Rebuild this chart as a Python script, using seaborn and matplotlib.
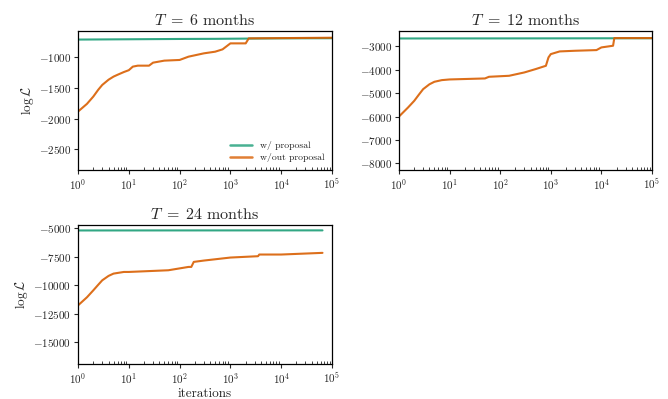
import numpy as np
import pandas as pd
import matplotlib
matplotlib.use("Agg")
import matplotlib.pyplot as plt
import seaborn as sns

sns.set_theme(style="ticks")
plt.rcParams["font.family"] = ["serif"]
plt.rcParams["font.serif"] = ["cmr10", "DejaVu Serif"]
plt.rcParams["mathtext.fontset"] = "cm"
plt.rcParams["axes.formatter.use_mathtext"] = True
plt.rcParams["axes.unicode_minus"] = True

# ---- data ----
titles = [r"$T\;=\;6$ months", r"$T\;=\;12$ months", r"$T\;=\;24$ months"]
series_names = ["w/ proposal", "w/out proposal"]

# T = 6 months
t6_with_x = [1, 10, 100, 500, 1000, 3000, 10000, 100000]
t6_with_y = [-710, -705, -700, -698, -696, -693, -690, -688]
t6_without_x = [1, 1.5, 2, 2.5, 3, 4, 5, 6, 8, 10, 12, 15, 25, 30, 50, 100, 150, 300, 500, 700,
                1000, 2000, 2300, 100000]
t6_without_y = [-1886, -1760, -1641, -1530, -1451, -1365, -1315, -1285, -1240, -1210, -1152, -1136,
                -1136, -1087, -1054, -1043, -989, -935, -908, -870, -772, -772, -690, -680]

# T = 12 months
t12_with_x = [1, 10, 100, 1000, 10000, 100000]
t12_with_y = [-2660, -2658, -2657, -2655, -2652, -2650]
t12_without_x = [1, 1.5, 2, 2.5, 3, 4, 5, 7, 10, 50, 60, 150, 300, 500, 800, 900, 1000, 1500, 3000,
                 8000, 10000, 17000, 18000, 100000]
t12_without_y = [-6000, -5620, -5329, -5050, -4829, -4620, -4514, -4443, -4414, -4371, -4300, -4257,
                 -4114, -3971, -3829, -3471, -3329, -3214, -3186, -3157, -3043, -2971, -2643, -2643]

# T = 24 months
t24_with_x = [1, 10, 100, 1000, 10000, 65000]
t24_with_y = [-5180, -5178, -5176, -5175, -5173, -5172]
t24_without_x = [1, 1.5, 2, 2.5, 3, 4, 5, 8, 10, 60, 150, 170, 190, 300, 1000, 3500, 3700, 10000,
                 65000]
t24_without_y = [-11765, -11050, -10441, -9950, -9559, -9170, -8970, -8824, -8824, -8676, -8382,
                 -8382, -7941, -7824, -7559, -7441, -7294, -7294, -7147]

ylims = [(-2840, -570), (-8290, -2340), (-16910, -4700)]
yticks = [[-2500, -2000, -1500, -1000],
          [-8000, -7000, -6000, -5000, -4000, -3000],
          [-15000, -12500, -10000, -7500, -5000]]

panels = [
    (t6_with_x, t6_with_y, t6_without_x, t6_without_y),
    (t12_with_x, t12_with_y, t12_without_x, t12_without_y),
    (t24_with_x, t24_with_y, t24_without_x, t24_without_y),
]

colors = {"w/ proposal": "#1b9e77", "w/out proposal": "#d95f02"}

W, H = 668, 399
fig = plt.figure(figsize=(W / 100, H / 100), dpi=100)
rects = [(78, 31, 332, 170), (399, 31, 652, 170), (78, 225, 332, 364)]
axes = []
for (l, t, r, b) in rects:
    axes.append(fig.add_axes([l / W, 1 - b / H, (r - l) / W, (b - t) / H]))

for i, (ax, (wx, wy, ox, oy)) in enumerate(zip(axes, panels)):
    df = pd.concat([
        pd.DataFrame({"iter": wx, "logL": wy, "method": series_names[0]}),
        pd.DataFrame({"iter": ox, "logL": oy, "method": series_names[1]}),
    ])
    sns.lineplot(data=df, x="iter", y="logL", hue="method", palette=colors,
                 linewidth=1.5, alpha=0.9, ax=ax,
                 legend=(i == 0), estimator=None, sort=False)
    ax.set_xscale("log")
    ax.set_xlim(1, 1e5)
    ax.set_ylim(*ylims[i])
    ax.set_yticks(yticks[i])
    ax.set_title(titles[i], fontsize=11.5, pad=4)
    ax.set_xlabel("iterations" if i == 2 else "", fontsize=9.5, labelpad=1)
    ax.set_ylabel(r"$\log\mathcal{L}$" if i != 1 else "", fontsize=9.5, labelpad=2)
    ax.tick_params(axis="both", which="major", labelsize=8, length=3, width=0.8, direction="out", pad=2)
    ax.tick_params(axis="x", which="minor", length=2, width=0.6, direction="in")
    for s in ax.spines.values():
        s.set_linewidth(0.9)
        s.set_color("black")
        s.set_visible(True)

leg = axes[0].legend(loc="lower right", frameon=False, fontsize=7, handlelength=2.2,
                     borderaxespad=0.4, labelspacing=0.3)
for h in leg.legend_handles:
    h.set_linewidth(1.8)
    h.set_alpha(0.8)

fig.savefig("out.png", dpi=100)
